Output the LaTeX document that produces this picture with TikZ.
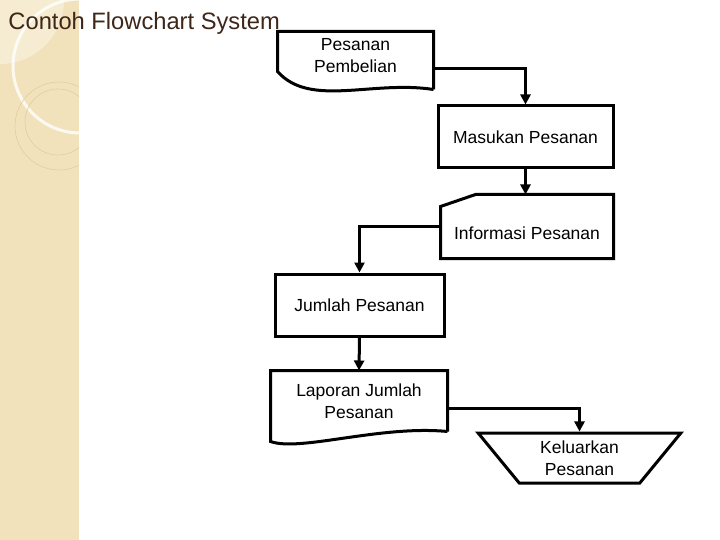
\documentclass[tikz,border=0pt]{standalone}
\usepackage{fontspec}
\setmainfont{Liberation Sans}
\usetikzlibrary{arrows.meta,shapes.geometric}
\definecolor{band}{RGB}{242,226,188}
\definecolor{bandlight}{RGB}{246,236,210}
\definecolor{bandline}{RGB}{224,205,160}
\definecolor{titlebrown}{RGB}{62,38,24}

\begin{document}
\begin{tikzpicture}[x=1pt, y=-1pt, every node/.style={font=\fontsize{17.5}{21.5}\selectfont, align=center, inner sep=0pt}, line width=3pt, >={Stealth[length=10pt,width=10pt,inset=0pt]}]

\tikzstyle{proses}=[draw, line width=3pt, rectangle, minimum width=172pt, minimum height=62pt]
\tikzstyle{dokumen}=[rectangle, minimum width=153pt, minimum height=45pt]
\tikzstyle{garis}=[->, line width=3pt, line join=miter]

\useasboundingbox (0,0) rectangle (720,540);

% latar samping
\fill[band] (0,0) rectangle (79,540);
\begin{scope}
\clip (0,0) rectangle (79,540);
\fill[bandlight] (0,0) circle (64);
\draw[white, line width=3pt, opacity=.8] (80,66) circle (67);
\draw[bandline, line width=.6pt] (59,126) circle (44);
\draw[bandline, line width=.6pt] (58,122) circle (33);
\end{scope}

\node[anchor=base west, font=\fontsize{23.7}{28}\selectfont, text=titlebrown] (judul) at (7,30) {Contoh Flowchart System};

% simbol
\node[dokumen] (pesanan) at (355.5,55.5) {Pesanan\\Pembelian};
\node[proses, minimum width=175pt] (masukan) at (525.5,137) {Masukan Pesanan};
\node[rectangle, minimum width=170pt, minimum height=61pt, text height=30pt, text depth=4pt] (informasi) at (527,226.5) {Informasi Pesanan};
\node[proses, minimum width=169pt] (jumlah) at (359.5,305) {Jumlah Pesanan};
\node[dokumen, minimum width=174pt, minimum height=58pt] (laporan) at (359,401) {Laporan Jumlah\\Pesanan};
\node[draw, line width=3pt, trapezium, trapezium stretches=true, shape border rotate=180, trapezium angle=52, minimum width=203pt, minimum height=50pt] (keluarkan) at (579.5,458) {Keluarkan\\Pesanan};

% garis tepi dokumen dan input manual
\draw[line join=miter] ([yshift=-10pt]pesanan.south east) -- (pesanan.north east) -- (pesanan.north west) -- ([yshift=-40pt]pesanan.north west)
  .. controls (310,108) and (372,80) .. ([yshift=-10pt]pesanan.south east);
\draw[line join=miter] (laporan.south east) -- (laporan.north east) -- (laporan.north west) -- ([yshift=-10pt]laporan.south west)
  .. controls (300,452) and (380,425) .. (laporan.south east);
\draw[line join=miter] (informasi.south west) -- ([yshift=-12pt]informasi.north west) -- ([xshift=35pt]informasi.north west) -- (informasi.north east) -- (informasi.south east) -- cycle;

% alur
\draw[garis] ([yshift=-13.5pt]pesanan.east) -| (masukan.north);
\draw[garis] (masukan.south) -- (masukan.south |- informasi.north);
\draw[garis] (informasi.west) -| (jumlah.north);
\draw[garis] (jumlah.south) -- (laporan.north);
\draw[garis] ([yshift=-7pt]laporan.east) -| (keluarkan.north);

\end{tikzpicture}
\end{document}
